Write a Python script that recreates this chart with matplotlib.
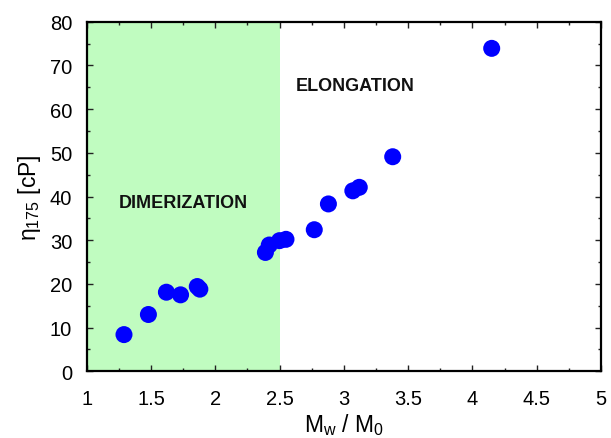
import matplotlib
matplotlib.use('Agg')
import matplotlib.pyplot as plt
from matplotlib.ticker import MultipleLocator, FuncFormatter

plt.rcParams['font.family'] = ['Liberation Sans', 'DejaVu Sans']
plt.rcParams['mathtext.fontset'] = 'custom'
plt.rcParams['mathtext.rm'] = 'Liberation Sans'
plt.rcParams['mathtext.it'] = 'Liberation Sans'

# polydispersity vs viscosity at 175 C
mw_m0 = [1.29, 1.48, 1.62, 1.73, 1.86, 1.88, 2.39, 2.42, 2.50, 2.55,
         2.77, 2.88, 3.07, 3.12, 3.38, 4.15]
eta175 = [8.4, 13.0, 18.1, 17.5, 19.4, 18.8, 27.2, 28.9, 29.9, 30.2,
          32.4, 38.3, 41.3, 42.1, 49.1, 73.9]

dimer_range = (1.0, 2.5)
regions = [('DIMERIZATION', 1.75, 38.7), ('ELONGATION', 3.09, 65.5)]

fig = plt.figure(figsize=(6.11, 4.39), dpi=100)
ax = fig.add_axes([0.1419, 0.1519, 0.9836 - 0.1419, 0.9483 - 0.1519])

ax.axvspan(*dimer_range, color='#c0fcc0', lw=0, zorder=0)
ax.scatter(mw_m0, eta175, s=150, color='#0000ff', edgecolors='none', zorder=3)

for label, x, y in regions:
    ax.text(x, y, label, ha='center', va='center', fontsize=13,
            fontweight='bold', color='#111111')

ax.set_xlim(1, 5)
ax.set_ylim(0, 80)
ax.xaxis.set_major_locator(MultipleLocator(0.5))
ax.xaxis.set_minor_locator(MultipleLocator(0.25))
ax.yaxis.set_major_locator(MultipleLocator(10))
ax.yaxis.set_minor_locator(MultipleLocator(5))
ax.xaxis.set_major_formatter(FuncFormatter(lambda v, p: f'{v:g}'))
ax.tick_params(which='both', direction='in', top=True, right=True,
               labelsize=14.5, width=1, color='#222222')
ax.tick_params(which='major', length=4.5)
ax.tick_params(which='minor', length=2.5)
ax.tick_params(axis='x', which='major', pad=13)
ax.tick_params(axis='y', which='major', pad=10.5)
for s in ax.spines.values():
    s.set_linewidth(1.6)

ax.set_xlabel(r'M$_\mathregular{w}$ / M$_\mathregular{0}$', fontsize=16.5, labelpad=2)
ax.set_ylabel(r'$\mathregular{\eta_{175}}$ [cP]', fontsize=16.5, labelpad=5)

fig.savefig('out.png', dpi=100)
